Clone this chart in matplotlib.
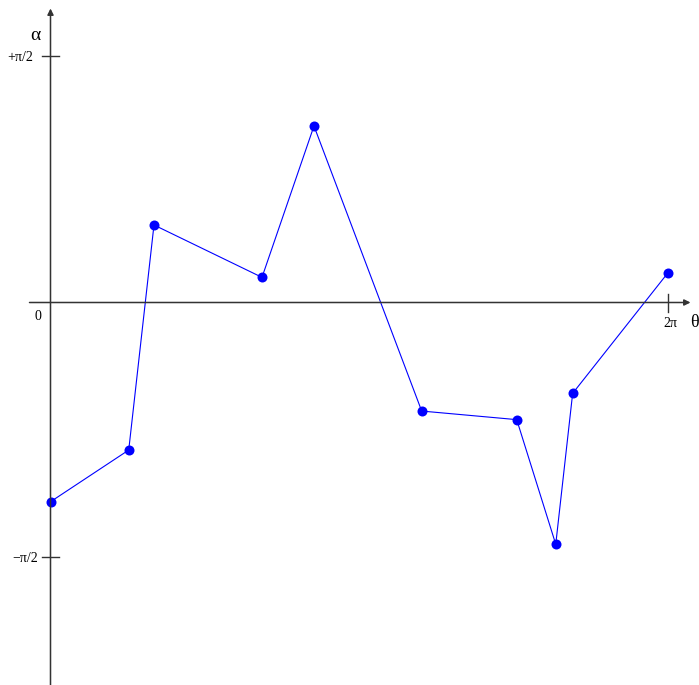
import numpy as np
import matplotlib.pyplot as plt

plt.rcParams['font.family'] = ['Liberation Serif', 'DejaVu Serif']

# sampled angles theta (rad) and deflection alpha (rad)
theta = [0.0, 0.796, 1.053, 2.152, 2.681, 3.777, 4.744, 5.141, 5.313, 2 * np.pi]
alpha = [-1.252, -0.927, 0.487, 0.158, 1.109, -0.682, -0.736, -1.519, -0.571, 0.187]

# tick marks on the alpha axis and their labels
alpha_ticks = [1.546, -1.601]
alpha_labels = ['+\u03c0/2', '\u2212\u03c0/2']

W, H = 699, 685
x0, y0 = 50.5, 302.5          # origin in pixels
sx = 617.5 / (2 * np.pi)      # pixels per radian on theta
sy = 250.0 / (np.pi / 2)      # pixels per radian on alpha

fig = plt.figure(figsize=(W / 100, H / 100), dpi=100)
ax = fig.add_axes([0, 0, 1, 1])
ax.set_xlim(-x0 / sx, (W - x0) / sx)
ax.set_ylim(-(H - y0) / sy, y0 / sy)
ax.axis('off')

axc = '#333333'

# axes with arrow heads
ax.annotate('', xy=(640 / sx, 0), xytext=(-21 / sx, 0),
            arrowprops=dict(arrowstyle='-|>', color=axc, lw=1.1,
                            mutation_scale=9, shrinkA=0, shrinkB=0))
ax.annotate('', xy=(0, 294 / sy), xytext=(0, -(H - y0 + 2) / sy),
            arrowprops=dict(arrowstyle='-|>', color=axc, lw=1.1,
                            mutation_scale=9, shrinkA=0, shrinkB=0))

# ticks
for yv in alpha_ticks:
    ax.plot([-8.5 / sx, 8.5 / sx], [yv, yv], color=axc, lw=1.0)
ax.text(-17 / sx, alpha_ticks[0] - 1.5 / sy, alpha_labels[0],
        ha='right', va='center', fontsize=10)
ax.text(-12 / sx, alpha_ticks[1] - 1 / sy, alpha_labels[1],
        ha='right', va='center', fontsize=10)
ax.plot([2 * np.pi, 2 * np.pi], [-9 / sy, 9 / sy], color=axc, lw=1.0)

ax.text(-13 / sx, -14 / sy, '0', ha='center', va='center', fontsize=10)
ax.text(2 * np.pi + 2 / sx, -21 / sy, '2\u03c0', ha='center', va='center', fontsize=10)
ax.text(-15 / sx, 267 / sy, '\u03b1', ha='center', va='center', fontsize=14)
ax.text(640 / sx, -20 / sy, '\u03b8', ha='left', va='center', fontsize=13)

ax.plot(theta, alpha, color='blue', lw=0.8, marker='o', markersize=7.2,
        markeredgewidth=0)

fig.savefig('out.png', dpi=100)
